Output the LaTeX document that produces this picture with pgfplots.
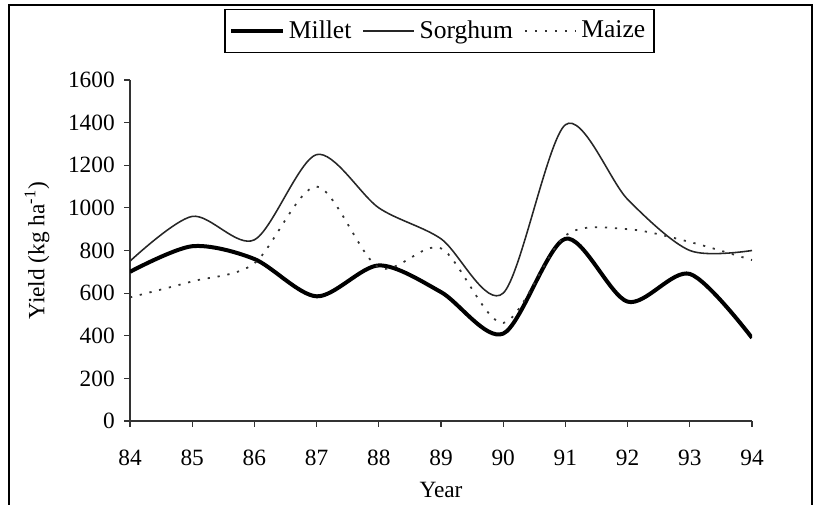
\documentclass[border=0pt]{standalone}
\usepackage{fontspec}
\setmainfont{Liberation Serif}
\usepackage{pgfplots}
\pgfplotsset{compat=1.18}
\begin{document}
\fontsize{10.5}{12}\selectfont
\begin{tikzpicture}
\useasboundingbox (0,0) rectangle (368.1pt,226.8pt);
\draw[line width=1.3pt] (4.05pt,-2pt) -- (4.05pt,224.55pt) -- (365.4pt,224.55pt) -- (365.4pt,-2pt);
\begin{axis}[
  at={(58.5pt,37.35pt)}, anchor=south west,
  scale only axis, width=279.9pt, height=153.45pt,
  xmin=84, xmax=94, ymin=0, ymax=1600,
  xtick={84,...,94}, ytick={0,200,...,1600},
  axis x line*=bottom, axis y line*=left,
  tick align=outside, major tick length=2.7pt,
  tick style={black!80, line width=0.5pt},
  axis line style={line width=0.6pt, black!80},
  /pgf/number format/assume math mode=true,
  /pgf/number format/1000 sep={},
  ticklabel style={font=\fontsize{10.5}{12}\selectfont},
  xticklabel style={yshift=-6.5pt},
  yticklabel style={xshift=-0.5pt},
  xlabel={Year}, ylabel={Yield (kg ha\textsuperscript{-1})},
  every axis x label/.style={at={(axis description cs:0.5,-0.202)}, anchor=center},
  every axis y label/.style={at={(axis description cs:-0.1495,0.5)}, anchor=center, rotate=90},
  legend columns=-1,
  legend style={at={(axis description cs:0.4976,1.1437)}, anchor=center, draw=black, line width=0.6pt,
    font=\fontsize{11.5}{13}\selectfont, inner xsep=2pt, inner ysep=3pt,
    /tikz/every even column/.append style={column sep=3pt}},
  legend image code/.code={\draw[#1] (0pt,0pt) -- (23pt,0pt);},
]
\addplot[black, line width=1.8pt, smooth, tension=0.5] coordinates {
(84,700)(85,820)(86,760)(87,585)(88,730)(89,605)(90,410)(91,855)(92,560)(93,690)(94,390)};
\addlegendentry{Millet}
\addplot[black!85, line width=0.7pt, smooth, tension=0.5] coordinates {
(84,750)(85,960)(86,850)(87,1250)(88,1000)(89,855)(90,600)(91,1390)(92,1040)(93,800)(94,800)};
\addlegendentry{Sorghum}
\addplot[black!80, line width=0.8pt, smooth, tension=0.5, dash pattern=on 1pt off 3.5pt] coordinates {
(84,580)(85,655)(86,740)(87,1100)(88,720)(89,810)(90,460)(91,870)(92,900)(93,840)(94,755)};
\addlegendentry{Maize}
\end{axis}
\end{tikzpicture}
\end{document}
